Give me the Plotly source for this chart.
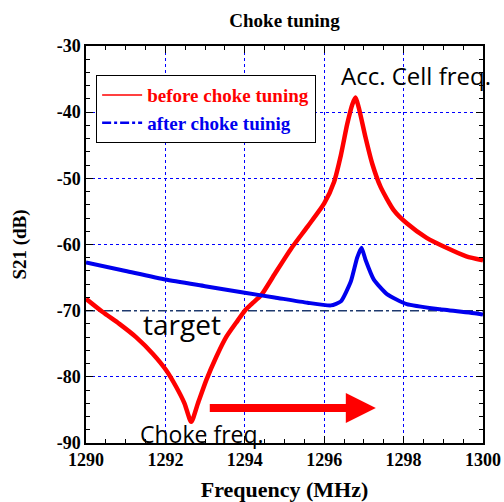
import plotly.graph_objects as go

# ---- data ----
red_f = [1290.0, 1290.42, 1290.84, 1291.26, 1291.68, 1292.02, 1292.27, 1292.48, 1292.65,
         1292.82, 1293.03, 1293.28, 1293.53, 1293.82, 1294.0, 1294.17, 1294.42, 1294.75,
         1295.17, 1295.58, 1296.0, 1296.25, 1296.42, 1296.58, 1296.71, 1296.79, 1296.87,
         1297.04, 1297.21, 1297.42, 1297.75, 1298.08, 1298.58, 1299.08, 1299.58, 1300.0]
red_s21 = [-68.2, -70.2, -72.0, -74.0, -76.5, -79.0, -81.5, -84.0, -86.8,
           -84.0, -80.5, -77.0, -74.0, -71.5, -70.0, -69.0, -67.6, -64.5,
           -60.6, -57.3, -53.8, -50.5, -46.5, -41.8, -38.8, -37.8, -39.3,
           -43.8, -47.8, -51.3, -54.8, -56.8, -59.0, -60.5, -61.8, -62.4]

blue_f = [1290.0, 1291.0, 1292.0, 1293.0, 1294.0, 1294.75, 1295.58, 1296.17, 1296.42,
          1296.67, 1296.83, 1296.94, 1297.04, 1297.25, 1297.58, 1298.08, 1298.92, 1299.92, 1300.0]
blue_s21 = [-62.7, -64.0, -65.3, -66.3, -67.3, -68.0, -68.8, -69.2, -68.6,
            -65.6, -62.0, -60.5, -62.3, -65.3, -67.5, -69.0, -69.8, -70.5, -70.6]

target_level = -70
x_range = [1290, 1300]
y_range = [-90, -30]
x_ticks = [1290, 1292, 1294, 1296, 1298, 1300]
y_ticks = [-90, -80, -70, -60, -50, -40, -30]
arrow_from = 1293.08
arrow_to = 1297.3
arrow_level = -84.7

serif = "Liberation Serif"
sans = "Open Sans"

fig = go.Figure()

fig.add_trace(go.Scatter(x=x_range, y=[target_level, target_level], mode="lines",
                         line=dict(color="#1f3a6e", width=1.5, dash="dashdot"),
                         showlegend=False, hoverinfo="skip"))
fig.add_trace(go.Scatter(x=red_f, y=red_s21, mode="lines",
                         line=dict(color="#ff0000", width=4.5, shape="spline", smoothing=0.6),
                         showlegend=False))
fig.add_trace(go.Scatter(x=blue_f, y=blue_s21, mode="lines",
                         line=dict(color="#0000ee", width=4, shape="spline", smoothing=0.5),
                         showlegend=False))
# legend entries
fig.add_trace(go.Scatter(x=[None], y=[None], mode="lines",
                         line=dict(color="#ff0000", width=1.5),
                         name='<span style="color:#ff0000">before choke tuning</span>'))
fig.add_trace(go.Scatter(x=[None], y=[None], mode="lines",
                         line=dict(color="#0000ee", width=2.5, dash="dashdot"),
                         name='<span style="color:#0000ee">after choke tuinig</span>'))

axis_common = dict(
    showline=True, linecolor="black", linewidth=1.5, mirror="ticks",
    ticks="inside", ticklen=7, tickcolor="black",
    showgrid=True, gridcolor="#0000ff", griddash="dot", gridwidth=1,
    zeroline=False, automargin=False,
    tickfont=dict(family=serif, size=18, color="black", weight="bold"),
)

fig.update_xaxes(range=x_range, tickvals=x_ticks, ticktext=[str(v) for v in x_ticks],
                 minor=dict(dtick=0.5, ticks="inside", ticklen=4, tickcolor="black", showgrid=False),
                 title=dict(text="Frequency (MHz)", font=dict(family=serif, size=22, color="black", weight="bold"), standoff=12),
                 **axis_common)
fig.update_yaxes(range=y_range, tickvals=y_ticks, ticktext=[str(v) for v in y_ticks],
                 minor=dict(dtick=2, ticks="inside", ticklen=4, tickcolor="black", showgrid=False),
                 title=dict(text="S21 (dB)", font=dict(family=serif, size=19, color="black", weight="bold"), standoff=25),
                 **axis_common)

fig.add_annotation(x=arrow_to, y=arrow_level, ax=arrow_from, ay=arrow_level,
                   xref="x", yref="y", axref="x", ayref="y", text="",
                   showarrow=True, arrowhead=2, arrowsize=0.75, arrowwidth=8, arrowcolor="#ff0000")

fig.add_annotation(x=1298.3, y=-34.4, xref="x", yref="y", text="Acc. Cell freq.",
                   showarrow=False, font=dict(family=sans, size=24, color="black"))
fig.add_annotation(x=1292.42, y=-72.0, xref="x", yref="y", text="target",
                   showarrow=False, font=dict(family=sans, size=28, color="black"))
fig.add_annotation(x=1292.92, y=-88.6, xref="x", yref="y", text="Choke freq.",
                   showarrow=False, font=dict(family=sans, size=23, color="black"))

fig.update_layout(
    width=504, height=502,
    margin=dict(l=86, r=21, t=46, b=59),
    paper_bgcolor="white", plot_bgcolor="white",
    title=dict(text="Choke tuning", x=0.5, xref="paper", xanchor="center",
               y=0.96, yref="container", yanchor="middle",
               font=dict(family=serif, size=19, color="black", weight="bold")),
    legend=dict(x=0.025, y=0.927, xanchor="left", yanchor="top",
                bgcolor="white", bordercolor="black", borderwidth=1.2,
                font=dict(family=serif, size=19, weight="bold"),
                tracegroupgap=0, itemwidth=40),
    showlegend=True,
)

fig.write_html("out.html", config={"displayModeBar": False},
               post_script="document.body.style.margin='0';")
